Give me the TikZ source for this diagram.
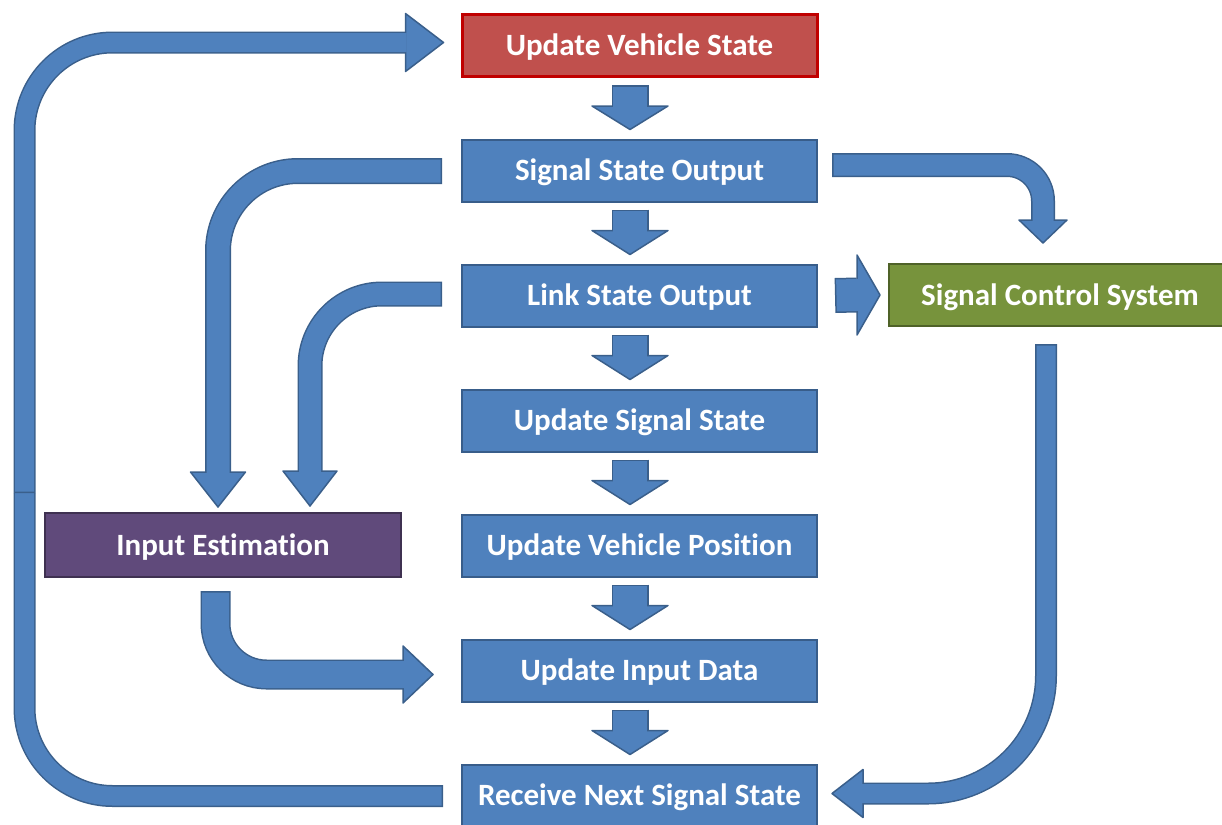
\documentclass[tikz,border=0pt]{standalone}
\usepackage{fontspec}
\setmainfont[Ligatures=NoCommon]{Carlito}
\usetikzlibrary{positioning,calc}

\definecolor{boxblue}{HTML}{4F81BD}
\definecolor{boxline}{HTML}{385D8A}
\definecolor{arrowline}{HTML}{3A5F8B}
\definecolor{redfill}{HTML}{C0504D}
\definecolor{redline}{HTML}{C00000}
\definecolor{purplefill}{HTML}{604A7B}
\definecolor{purpleline}{HTML}{3F3151}
\definecolor{greenfill}{HTML}{77933C}
\definecolor{greenline}{HTML}{4F6228}

\begin{document}
\begin{tikzpicture}[x=0.5pt,y=-0.5pt,node distance=62.5pt,
	flow box/.style = {rectangle, draw=boxline, fill=boxblue, line width=1pt, text=white,
		font=\bfseries\fontsize{15.5}{18}\selectfont, inner sep=0pt,
		text height=14.5pt, text depth=4.5pt,
		minimum width=177.5pt, minimum height=31pt},
	rim/.style = {draw=arrowline, line width=#1},
	core/.style = {draw=boxblue, line width=#1, shorten <=0.75pt, shorten >=-0.6pt},
	head/.style = {fill=boxblue, draw=arrowline, line width=0.75pt, line join=round}]
	
	\useasboundingbox (0,0) rectangle (1222,825);
	
	\node[flow box, draw=redline, fill=redfill, line width=1.5pt] (uvs) at (639.5,45.5) {Update Vehicle State};
	\node[flow box] [below of = uvs] (sso) {Signal State Output};
	\node[flow box] [below of = sso] (lso) {Link State Output};
	\node[flow box] [below of = lso] (uss) {Update Signal State};
	\node[flow box] [below of = uss] (uvp) {Update Vehicle Position};
	\node[flow box] [below of = uvp] (uid) {Update Input Data};
	\node[flow box] [below of = uid] (rnss) {Receive Next Signal State};
	\node[flow box, draw=purpleline, fill=purplefill, minimum width=178pt, minimum height=32pt] (ie) at (223,545) {Input Estimation};
	\node[flow box, draw=greenline, fill=greenfill, anchor=west, minimum width=171pt] (scs) at (888,295) {Signal Control System};
	
	% main column
	\foreach \src/\dst in {uvs/sso,sso/lso,lso/uss,uss/uvp,uvp/uid,uid/rnss}{
		\coordinate (s) at ($(\src.south)+(-9.5,7)$);
		\coordinate (b) at ($(\src.south)+(-9.5,28)$);
		\coordinate (t) at ($(\dst.north)+(-9.5,-9)$);
		\draw[rim=18.5pt] (s) -- (b);
		\draw[head] ($(b)+(-38,0)$) -- (t) -- ($(b)+(38,0)$) -- cycle;
		\draw[core=17pt] (s) -- (b);
	}
	
	% big loop back to the top
	\coordinate (loop tail) at ($(rnss.west)+(-18,0.5)$);
	\coordinate (seam) at (24.5,493);
	\coordinate (loop tip) at ($(uvs.west)+(-17,-3)$);
	\coordinate (loop base) at ($(loop tip)+(-38,0)$);
	\draw[rim=11pt, rounded corners=44pt] (loop tail) -| (seam);
	\draw[core=9.5pt, rounded corners=44pt] (loop tail) -| (seam);
	\draw[rim=11pt, rounded corners=44pt] (seam) |- (loop base);
	\draw[head] ($(loop base)+(0,-29)$) -- (loop tip) -- ($(loop base)+(0,29)$) -- cycle;
	\draw[core=9.5pt, rounded corners=44pt] (seam) |- (loop base);
	
	% outputs into input estimation
	\coordinate (sso tail) at ($(sso.west)+(-19,0.5)$);
	\coordinate (sso tip) at ($(ie.north)+(-5,-5)$);
	\coordinate (sso base) at ($(sso tip)+(0,-35)$);
	\draw[rim=13pt, rounded corners=40pt] (sso tail) -| (sso base);
	\draw[head] ($(sso base)+(-27.5,0)$) -- (sso tip) -- ($(sso base)+(27.5,0)$) -- cycle;
	\draw[core=11.5pt, rounded corners=40pt] (sso tail) -| (sso base);
	
	\coordinate (lso tail) at ($(lso.west)+(-19,-1.5)$);
	\coordinate (lso tip) at ($(ie.north)+(87,-6)$);
	\coordinate (lso base) at ($(lso tip)+(0,-35)$);
	\draw[rim=12.5pt, rounded corners=36pt] (lso tail) -| (lso base);
	\draw[head] ($(lso base)+(-27,0)$) -- (lso tip) -- ($(lso base)+(27,0)$) -- cycle;
	\draw[core=11pt, rounded corners=36pt] (lso tail) -| (lso base);
	
	% outputs into signal control system
	\coordinate (out tail) at ($(sso.east)+(14,-5.5)$);
	\coordinate (out tip) at ($(scs.north west)+(155,-20)$);
	\coordinate (out base) at ($(out tip)+(0,-23)$);
	\draw[rim=12pt, rounded corners=18pt] (out tail) -| (out base);
	\draw[head] ($(out base)+(-24,0)$) -- (out tip) -- ($(out base)+(24,0)$) -- cycle;
	\draw[core=10.5pt, rounded corners=18pt] (out tail) -| (out base);
	
	\coordinate (link tail) at ($(lso.east)+(17,0)$);
	\coordinate (link tip) at ($(scs.west)+(-8,0)$);
	\coordinate (link base) at ($(link tip)+(-23,0)$);
	\draw[rim=17.5pt] (link tail) -- (link base);
	\draw[head] ($(link base)+(0,-40)$) -- (link tip) -- ($(link base)+(0,40)$) -- cycle;
	\draw[core=16pt] (link tail) -- (link base);
	
	% signal control system back to receive
	\coordinate (scs tail) at ($(scs.south west)+(158,17)$);
	\coordinate (scs tip) at ($(rnss.east)+(14,-2)$);
	\coordinate (scs base) at ($(scs tip)+(31,0)$);
	\draw[rim=11pt, rounded corners=59pt] (scs tail) |- (scs base);
	\draw[head] ($(scs base)+(0,-24)$) -- (scs tip) -- ($(scs base)+(0,24)$) -- cycle;
	\draw[core=9.5pt, rounded corners=59pt] (scs tail) |- (scs base);
	
	% input estimation into update input data
	\coordinate (ie tail) at ($(ie.south)+(-7.5,13)$);
	\coordinate (ie tip) at ($(uid.west)+(-28,4)$);
	\coordinate (ie base) at ($(ie tip)+(-30,0)$);
	\draw[rim=15pt, rounded corners=25.5pt] (ie tail) |- (ie base);
	\draw[head] ($(ie base)+(0,-28.5)$) -- (ie tip) -- ($(ie base)+(0,28.5)$) -- cycle;
	\draw[core=13.5pt, rounded corners=25.5pt] (ie tail) |- (ie base);
\end{tikzpicture}
\end{document}
